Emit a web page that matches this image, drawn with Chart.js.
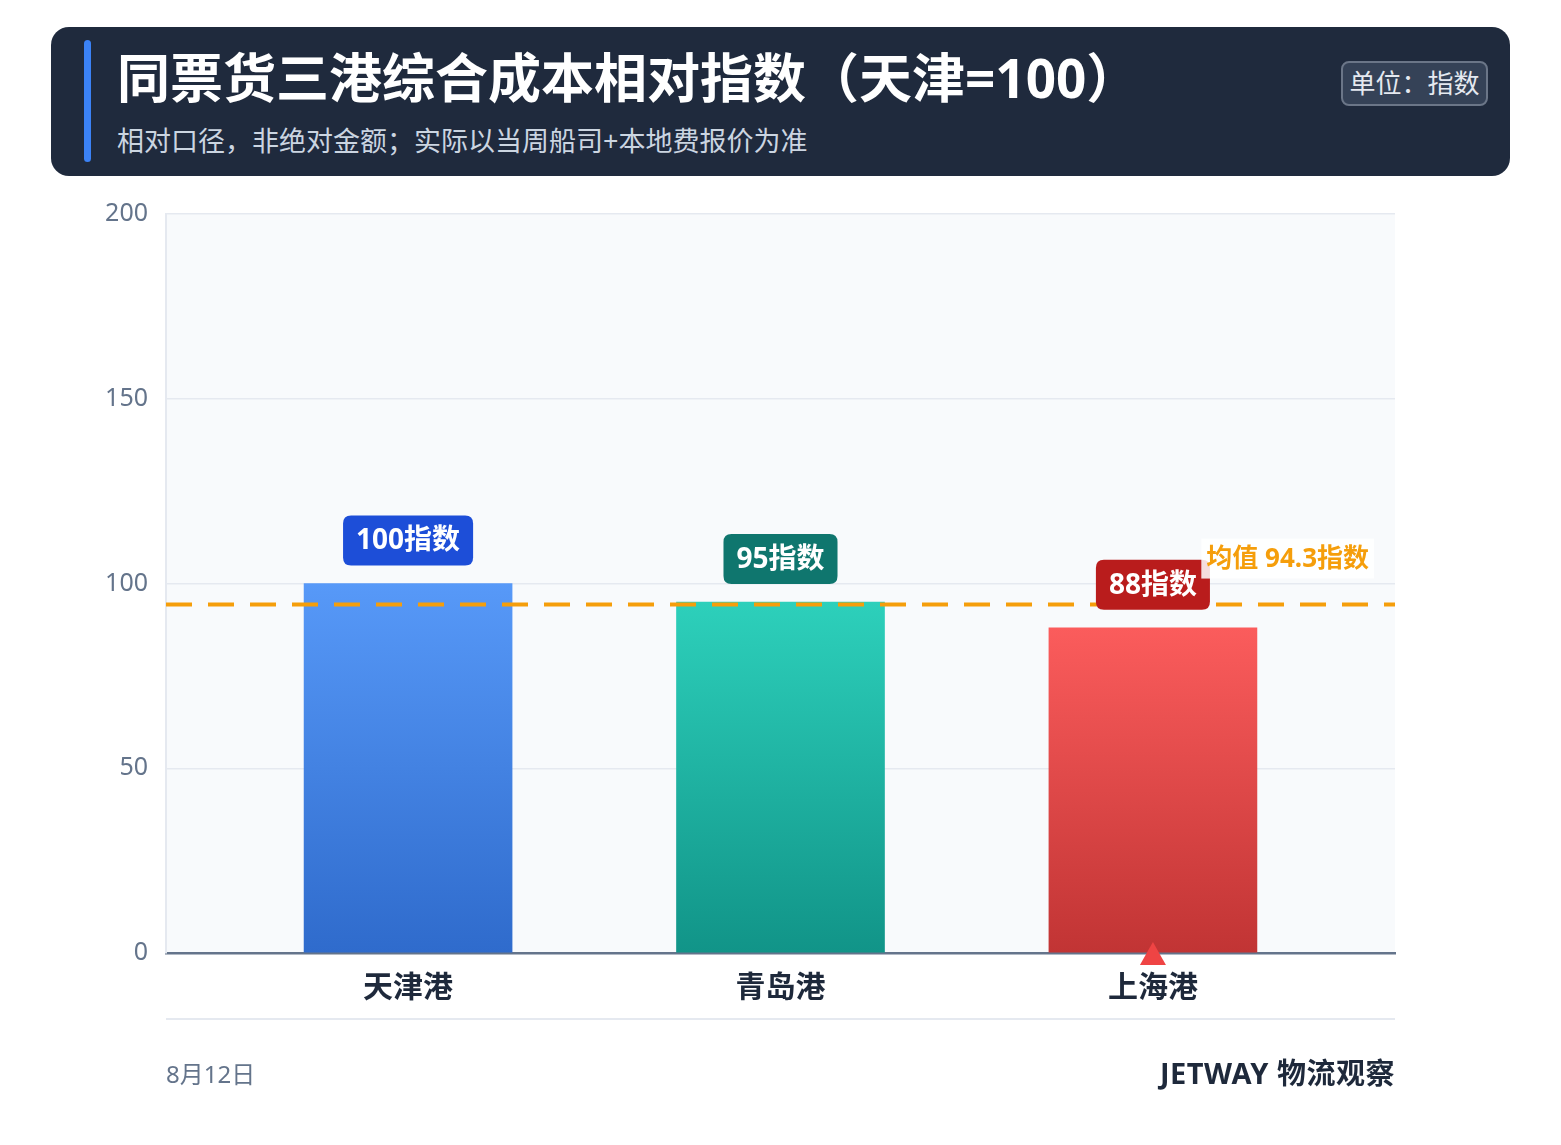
<!DOCTYPE html>
<html>
<head>
<meta charset="utf-8">
<script src="https://cdn.jsdelivr.net/npm/chart.js@4/dist/chart.umd.min.js"></script>
<style>
    body { margin: 0; background: #ffffff; font-family: "Noto Sans", "Noto Sans CJK SC", sans-serif; }
    #page { position: relative; width: 1561px; height: 1145px; overflow: hidden; }
    #chartCanvas { position: absolute; left: 0; top: 0; }
    #header { position: absolute; left: 51px; top: 27px; width: 1459px; height: 149px; background: #1f2a3d; border-radius: 18px; z-index: 2; }
    #accent { position: absolute; left: 33px; top: 13px; width: 7px; height: 122px; border-radius: 4px; background: #3b82f6; }
    #title { position: absolute; left: 66px; top: 18px; font-size: 53px; font-weight: 700; color: #ffffff; line-height: 66px; white-space: nowrap; }
    #subtitle { position: absolute; left: 66px; top: 96px; font-size: 27px; color: #cbd5e1; line-height: 36px; white-space: nowrap; }
    #unit { position: absolute; left: 1290px; top: 34px; width: 143px; height: 41px; border: 2px solid #6b7688; border-radius: 8px; background: #354257; color: #e5e9f0; font-size: 26px; line-height: 41px; text-align: center; }
    #footLine { position: absolute; left: 166px; top: 1018px; width: 1229px; height: 2px; background: #e5e9f0; }
    #footDate { position: absolute; left: 166px; top: 1057px; font-size: 24px; color: #64748b; line-height: 34px; }
    #footBrand { position: absolute; right: 166px; top: 1053px; font-size: 29px; font-weight: 700; color: #1e293b; line-height: 40px; letter-spacing: 0.5px; }
</style>
</head>
<body>
<div id="page">
    <canvas id="chartCanvas" width="1561" height="1145"></canvas>
    <div id="header">
        <div id="accent"></div>
        <div id="title">同票货三港综合成本相对指数（天津=100）</div>
        <div id="subtitle">相对口径，非绝对金额；实际以当周船司+本地费报价为准</div>
        <div id="unit">单位：指数</div>
    </div>
    <div id="footLine"></div>
    <div id="footDate">8月12日</div>
    <div id="footBrand">JETWAY 物流观察</div>
</div>
<script>
const ports = ["天津港", "青岛港", "上海港"];
const indexValues = [100, 95, 88];
const meanValue = 94.3;
const valueUnit = "指数";
const meanLabel = "均值 94.3指数";

const barTop = ["#5799f8", "#2dd0bb", "#fb5c5c"];
const barBottom = ["#2f6bcc", "#119488", "#c13434"];
const badgeColors = ["#1d4ed8", "#0f766e", "#b91c1c"];

const FONT = '"Noto Sans", "Noto Sans CJK SC", sans-serif';

function roundRect(ctx, x, y, w, h, r) {
    ctx.beginPath();
    ctx.moveTo(x + r, y);
    ctx.lineTo(x + w - r, y);
    ctx.quadraticCurveTo(x + w, y, x + w, y + r);
    ctx.lineTo(x + w, y + h - r);
    ctx.quadraticCurveTo(x + w, y + h, x + w - r, y + h);
    ctx.lineTo(x + r, y + h);
    ctx.quadraticCurveTo(x, y + h, x, y + h - r);
    ctx.lineTo(x, y + r);
    ctx.quadraticCurveTo(x, y, x + r, y);
    ctx.closePath();
}

const decorations = {
    id: "decorations",
    beforeDraw(chart) {
        const { ctx, chartArea } = chart;
        ctx.save();
        ctx.fillStyle = "#f8fafc";
        ctx.fillRect(chartArea.left, chartArea.top, chartArea.right - chartArea.left, chartArea.bottom - chartArea.top);
        ctx.restore();
    },
    afterDatasetsDraw(chart) {
        const { ctx, chartArea } = chart;
        const yScale = chart.scales.y;
        const meta = chart.getDatasetMeta(0);
        const meanY = yScale.getPixelForValue(meanValue);

        // mean line
        ctx.save();
        ctx.strokeStyle = "#f59e0b";
        ctx.lineWidth = 4;
        ctx.setLineDash([26, 16]);
        ctx.beginPath();
        ctx.moveTo(chartArea.left, meanY);
        ctx.lineTo(chartArea.right, meanY);
        ctx.stroke();
        ctx.restore();

        // value badges
        ctx.save();
        ctx.font = "bold 28px " + FONT;
        ctx.textAlign = "center";
        ctx.textBaseline = "middle";
        meta.data.forEach((bar, i) => {
            const text = indexValues[i] + valueUnit;
            const w = ctx.measureText(text).width + 26;
            const h = 50;
            const bx = bar.x - w / 2;
            const by = bar.y - 18 - h;
            ctx.fillStyle = badgeColors[i];
            roundRect(ctx, bx, by, w, h, 8);
            ctx.fill();
            ctx.fillStyle = "#ffffff";
            ctx.fillText(text, bar.x, by + h / 2 + 1);
        });
        ctx.restore();

        // mean label
        ctx.save();
        ctx.font = "bold 26px " + FONT;
        const mw = ctx.measureText(meanLabel).width;
        const boxRight = chartArea.right - 21;
        const boxX = boxRight - mw - 10;
        const boxY = meanY - 26 - 40;
        ctx.fillStyle = "rgba(255,255,255,0.85)";
        ctx.fillRect(boxX, boxY, mw + 10, 40);
        ctx.fillStyle = "#f59e0b";
        ctx.textBaseline = "middle";
        ctx.textAlign = "left";
        ctx.fillText(meanLabel, boxX + 5, boxY + 21);
        ctx.restore();

        // marker under the lowest bar
        const lowest = indexValues.indexOf(Math.min(...indexValues));
        const lb = meta.data[lowest];
        const baseY = yScale.getPixelForValue(0);
        ctx.save();
        ctx.fillStyle = "#ef4444";
        ctx.beginPath();
        ctx.moveTo(lb.x, baseY - 11);
        ctx.lineTo(lb.x + 13, baseY + 12);
        ctx.lineTo(lb.x - 13, baseY + 12);
        ctx.closePath();
        ctx.fill();
        ctx.restore();
    }
};

window.onload = function () {
    const ctx = document.getElementById("chartCanvas").getContext("2d");

    new Chart(ctx, {
        type: "bar",
        data: {
            datasets: [{
                data: indexValues.map((v, i) => ({ x: i, y: v })),
                barThickness: 208,
                backgroundColor: (c) => {
                    const chart = c.chart;
                    const area = chart.chartArea;
                    const i = c.dataIndex;
                    if (!area || c.type !== "data") return barTop[i || 0];
                    const top = chart.scales.y.getPixelForValue(indexValues[i]);
                    const g = chart.ctx.createLinearGradient(0, top, 0, area.bottom);
                    g.addColorStop(0, barTop[i]);
                    g.addColorStop(1, barBottom[i]);
                    return g;
                },
                borderWidth: 0
            }]
        },
        options: {
            responsive: false,
            animation: false,
            events: [],
            layout: { padding: { left: 0, right: 166, top: 214, bottom: 132 } },
            plugins: {
                legend: { display: false },
                tooltip: { enabled: false }
            },
            scales: {
                x: {
                    type: "linear",
                    min: -0.65,
                    max: 2.65,
                    offset: false,
                    afterBuildTicks: (s) => { s.ticks = ports.map((_, i) => ({ value: i })); },
                    afterFit: (s) => { s.height = 60; },
                    grid: { display: true, offset: false, color: "rgba(0,0,0,0)", drawTicks: false },
                    border: { display: true, color: "#64748b", width: 2.5 },
                    ticks: {
                        autoSkip: false,
                        maxRotation: 0,
                        padding: 17,
                        color: "#1e293b",
                        font: { family: FONT, size: 30, weight: "bold" },
                        callback: (v) => ports[v] !== undefined ? ports[v] : ""
                    }
                },
                y: {
                    min: 0,
                    max: 200,
                    afterFit: (s) => { s.width = 166; },
                    grid: {
                        drawTicks: false,
                        lineWidth: 1.5,
                        color: (c) => (c.tick && c.tick.value === 0) ? "rgba(0,0,0,0)" : "#e5e9f0"
                    },
                    border: { display: true, color: "#e5e9f0", width: 2 },
                    ticks: {
                        stepSize: 50,
                        padding: 18,
                        color: "#64748b",
                        font: { family: FONT, size: 25 }
                    }
                }
            }
        },
        plugins: [decorations]
    });
};
</script>
</body>
</html>
